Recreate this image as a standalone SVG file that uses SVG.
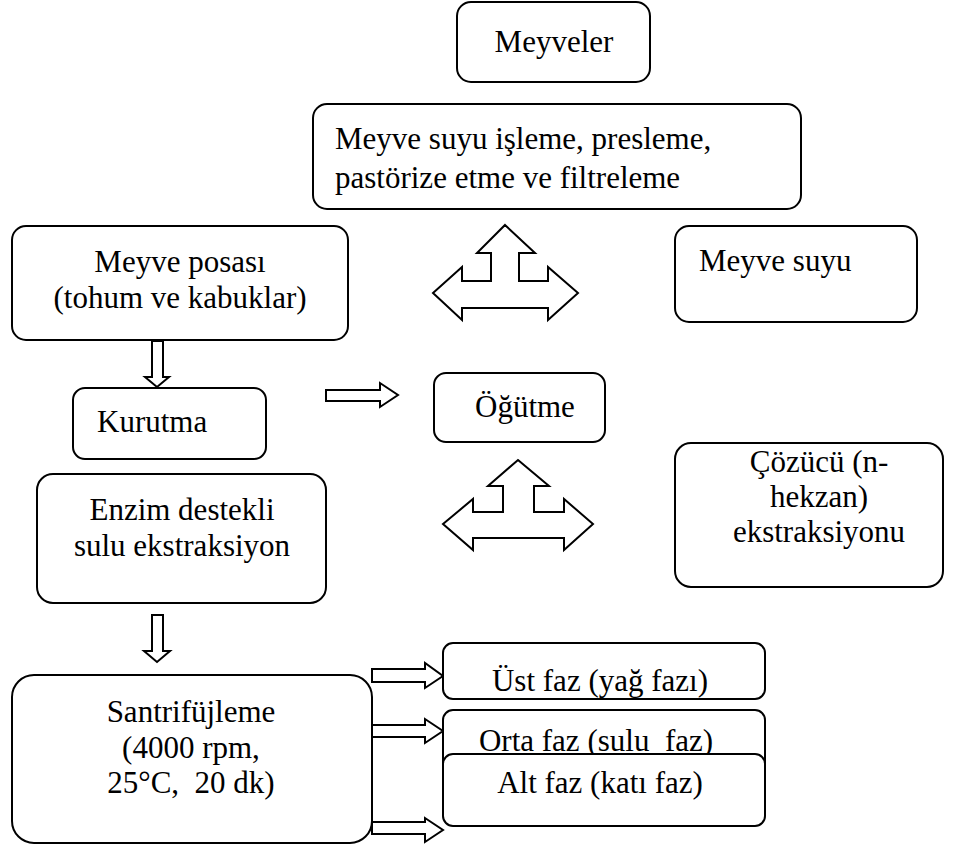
<svg xmlns="http://www.w3.org/2000/svg" width="956" height="849" viewBox="0 0 956 849">
<style>
.box{fill:#fff;stroke:#000;stroke-width:2}
.arr{fill:#fff;stroke:#000;stroke-width:2;stroke-linejoin:miter}
text{font-family:"Liberation Serif","Times New Roman",serif;font-size:31px;fill:#000}
.c{text-anchor:middle}
</style>
<rect width="956" height="849" fill="#fff"/>
<g id="connectors">
<path class="arr" d="M505,225 L535,253 L519,253 L519,281 L548,281 L548,267 L578,293 L548,320 L548,308 L462,308 L462,320 L433,293 L462,267 L462,281 L491,281 L491,253 L477,253 Z"/>
<path class="arr" d="M518,460 L549,486 L534,486 L534,512 L564,512 L564,499 L593,524 L564,550 L564,538 L473,538 L473,550 L443,524 L473,499 L473,512 L503,512 L503,486 L488,486 Z"/>
<path class="arr" d="M152,341 L163,341 L163,377 L169,377 L157,387 L145,377 L152,377 Z"/>
<path class="arr" d="M326,390 L380,390 L380,383 L398,395 L380,407 L380,401 L326,401 Z"/>
<path class="arr" d="M152,615 L163,615 L163,651 L170,651 L157,662 L144,651 L152,651 Z"/>
<path class="arr" d="M372,669 L425,669 L425,663 L443,676 L425,688 L425,682 L372,682 Z"/>
<path class="arr" d="M372,725 L425,725 L425,719 L443,731 L425,743 L425,737 L372,737 Z"/>
<path class="arr" d="M372,822 L425,822 L425,818 L443,830 L425,842 L425,834 L372,834 Z"/>
</g>
<g id="n-meyveler"><rect class="box" x="457" y="2" width="193" height="80" rx="14"/><text class="c" x="554" y="52">Meyveler</text></g>
<g id="n-isleme"><rect class="box" x="313" y="104" width="488" height="105" rx="14"/><text x="335" y="149">Meyve suyu işleme, presleme,</text><text x="335" y="188">pastörize etme ve filtreleme</text></g>
<g id="n-posa"><rect class="box" x="12" y="226" width="336" height="114" rx="14"/><text class="c" x="180" y="272">Meyve posası</text><text class="c" x="180" y="308">(tohum ve kabuklar)</text></g>
<g id="n-meyvesuyu"><rect class="box" x="675" y="226" width="242" height="96" rx="14"/><text x="699" y="271">Meyve suyu</text></g>
<g id="n-kurutma"><rect class="box" x="73" y="388" width="193" height="71" rx="12"/><text x="97" y="432">Kurutma</text></g>
<g id="n-ogutme"><rect class="box" x="434" y="373" width="171" height="69" rx="12"/><text x="475" y="417">Öğütme</text></g>
<g id="n-enzim"><rect class="box" x="37" y="474" width="289" height="129" rx="16"/><text class="c" x="182" y="520">Enzim destekli</text><text class="c" x="182" y="556">sulu ekstraksiyon</text></g>
<g id="n-cozucu"><rect class="box" x="675" y="443" width="268" height="144" rx="16"/><text class="c" x="819" y="472">Çözücü (n-</text><text class="c" x="819" y="507">hekzan)</text><text class="c" x="819" y="542">ekstraksiyonu</text></g>
<g id="n-santrifuj"><rect class="box" x="12" y="675" width="360" height="168" rx="22"/><text class="c" x="191" y="722">Santrifüjleme</text><text class="c" x="191" y="758">(4000 rpm,</text><text class="c" x="191" y="793" xml:space="preserve">25°C,  20 dk)</text></g>
<g id="n-ust"><rect class="box" x="443" y="643" width="322" height="56" rx="10"/><text class="c" x="600" y="691">Üst faz (yağ fazı)</text></g>
<g id="n-orta"><rect class="box" x="443" y="710" width="322" height="80" rx="10"/><text class="c" x="596" y="751" xml:space="preserve">Orta faz (sulu  faz)</text></g>
<g id="n-alt"><rect class="box" x="443" y="754" width="322" height="72" rx="10"/><text class="c" x="600" y="793">Alt faz (katı faz)</text></g>
</svg>
